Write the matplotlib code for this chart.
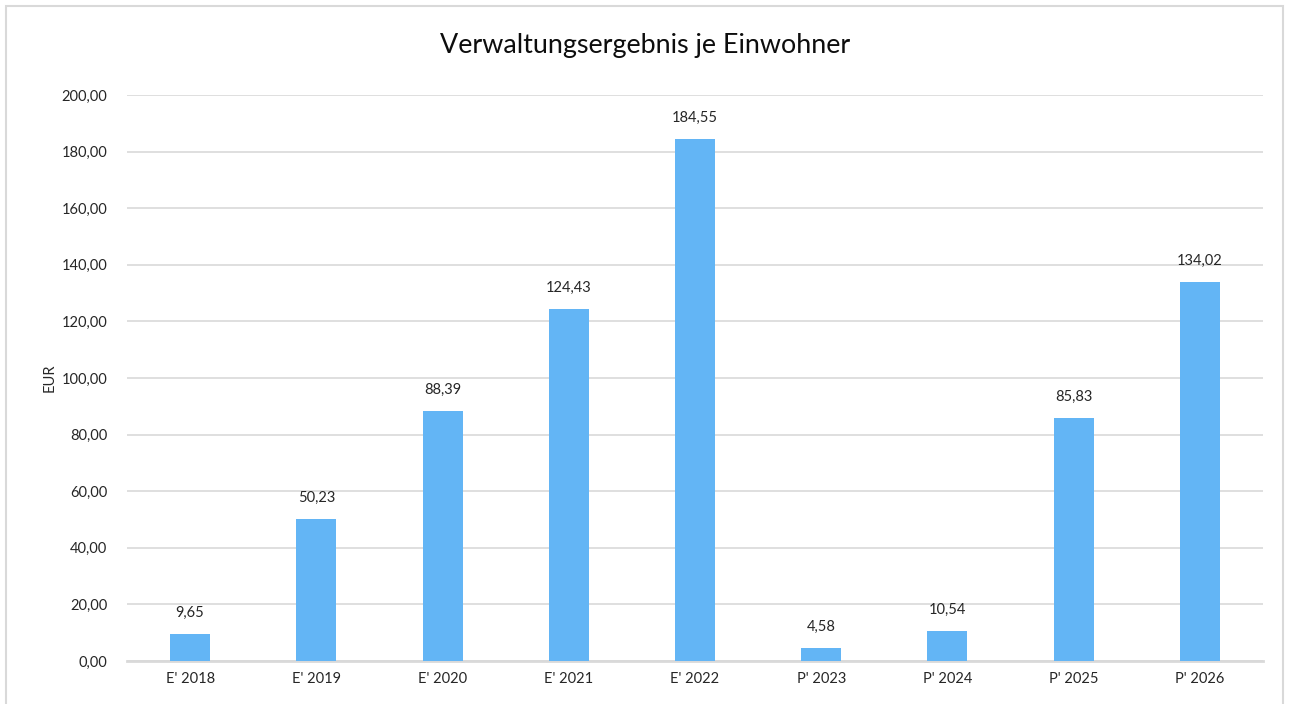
import matplotlib.pyplot as plt
from matplotlib.patches import Rectangle

# data
categories = ["E' 2018", "E' 2019", "E' 2020", "E' 2021", "E' 2022",
              "P' 2023", "P' 2024", "P' 2025", "P' 2026"]
values = [9.65, 50.23, 88.39, 124.43, 184.55, 4.58, 10.54, 85.83, 134.02]
yticks = [0, 20, 40, 60, 80, 100, 120, 140, 160, 180, 200]

plt.rcParams['font.family'] = ['Lato', 'DejaVu Sans']

fig = plt.figure(figsize=(12.9, 7.04), dpi=100)
ax = fig.add_axes([127/1290, 1 - 661/704, (1263 - 127)/1290, (661 - 95)/704])

# light border around the chart area
fig.patches.append(Rectangle((6/1290, -0.02), (1283 - 6)/1290, 1 - 6/704 + 0.02,
                             transform=fig.transFigure, fill=False,
                             edgecolor='#d9d9d9', linewidth=1.5))

x = range(len(categories))
bars = ax.bar(x, values, width=0.317, color='#63b5f5', zorder=3)

def fmt(v):
    return f"{v:,.2f}".replace(",", "X").replace(".", ",").replace("X", ".")

for xi, v in zip(x, values):
    ax.annotate(fmt(v), (xi, v), xytext=(0, 10), textcoords='offset points',
                ha='center', va='bottom', fontsize=10.5, color='#262626')

ax.set_xlim(-0.5, len(categories) - 0.5)
ax.set_ylim(0, 200)
ax.set_yticks(yticks)
ax.set_yticklabels([fmt(t) for t in yticks], fontsize=10.5, color='#262626')
ax.set_xticks(list(x))
ax.set_xticklabels(categories, fontsize=10.5, color='#262626')
ax.tick_params(length=0, pad=8)
ax.tick_params(axis='y', pad=14)

ax.grid(axis='y', color='#d9d9d9', linewidth=1.2, zorder=0)
for s in ['top', 'right', 'left']:
    ax.spines[s].set_visible(False)
ax.spines['bottom'].set_color('#d9d9d9')
ax.spines['bottom'].set_linewidth(2)

ax.set_ylabel('EUR', fontsize=10.5, color='#262626', labelpad=4)
fig.text(0.5, 1 - 45/704, 'Verwaltungsergebnis je Einwohner', ha='center', va='center',
         fontsize=19.4, color='#0d0d0d')

fig.savefig('out.png', dpi=100)
